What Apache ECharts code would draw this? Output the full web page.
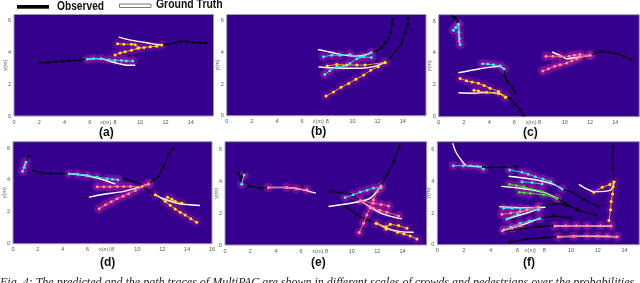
<!DOCTYPE html>
<html><head><meta charset="utf-8">
<script src="https://cdn.jsdelivr.net/npm/echarts@6/dist/echarts.min.js"></script>
<style>html,body{margin:0;padding:0;background:#fff;overflow:hidden}#c{width:640px;height:283px;filter:blur(.5px)}</style>
</head><body><div id="c"></div>
<script>
const xTicksStep = 2, yTicksStep = 2;
const panelNames = ['(a)','(b)','(c)','(d)','(e)','(f)'];
const xMax = [15.8,15.85,15.9,16,15.9,15.1];
const yMax = [6.4,6.4,6.4,6.4,6.5,6.5];

const aObserved = [
 [[2.1,3.35],[2.7,3.38],[3.3,3.42],[3.8,3.45],[4.3,3.48],[4.8,3.51],[5.3,3.54],[5.8,3.58]],
 [[15.2,4.6],[14.7,4.62],[14.2,4.65],[13.7,4.7],[13.2,4.7],[12.7,4.6],[12.2,4.55],[11.7,4.48]]];
const aTruth = [
 [[5.8,3.58],[6.5,3.62],[7,3.6],[7.6,3.45],[8.3,3.3],[9,3.2],[9.6,3.2]],
 [[11.7,4.48],[11,4.55],[10.3,4.65],[9.5,4.75],[8.9,4.85],[8.3,4.97]]];
const aCyan = [[[5.8,3.58],[6.3,3.62],[6.9,3.62],[7.5,3.55],[8,3.52],[8.5,3.5],[8.9,3.47],[9.4,3.47]]];
const aYellow = [
 [[11.7,4.48],[11.3,4.4],[10.8,4.37],[10.3,4.32],[9.8,4.27],[9.3,4.15],[8.8,4.05],[8.4,3.97],[8,3.85]],
 [[9.9,4.3],[9.6,4.5],[9.3,4.52],[8.7,4.53],[8.2,4.55]]];

const bObserved = [
 [[13.2,6.1],[13.15,5.8],[13.05,5.3],[12.9,4.9],[12.6,4.6],[12.3,4.3],[11.9,4.1],[11.5,4]],
 [[14.4,6.15],[14.4,5.8],[14.2,5.3],[13.9,4.55],[13.5,4.15],[13.05,3.7],[12.6,3.37]]];
const bTruth = [
 [[11.5,4],[11.15,3.87],[10.35,3.77],[9.3,3.83],[8.35,4],[7.25,4.19]],
 [[12.6,3.37],[11.67,3.1],[10.6,3],[9.3,3],[8.2,3.03],[7.3,3.1]]];
const bCyan = [
 [[11.5,3.68],[10.6,3.73],[9.8,3.87],[9,3.83],[8.35,3.83],[7.7,3.73]],
 [[11.5,4],[10.9,3.75],[10.35,3.6],[9.8,3.3],[9.3,3.15],[8.75,3.1],[8.2,2.85],[7.8,2.6]]];
const bYellow = [
 [[12.6,3.37],[11,3.2],[10.35,3.2],[9.55,3.2],[8.75,3.24],[8,3.15]],
 [[12.6,3.37],[12.05,3.1],[11.45,2.88],[10.9,2.57],[10.27,2.3],[9.7,2.04],[9.1,1.8],[8.5,1.5],[7.9,1.24]]];

const cObserved = [
 [[1.08,6.27],[1.3,6.2],[1.5,6],[1.56,5.8]],
 [[6.06,1.54],[5.8,1.85],[5.45,2.2],[5.26,2.53],[5.2,3]],
 [[6.72,0.1],[6.45,0.42],[6.06,0.78],[5.66,1.16],[5.3,1.22]],
 [[15.24,3.58],[14.65,3.79],[14.1,3.96],[13.5,4.04],[12.9,4.1],[12.4,4],[12,3.85]]];
const cTruth = [
 [[1.56,5.8],[1.64,4.63]],
 [[5.2,3],[4.75,3.16],[3.28,3.01],[1.56,2.76]],
 [[5.3,1.22],[4.87,1.43],[3.8,1.52],[2.75,1.47],[1.56,1.5]],
 [[12,3.85],[11.2,3.75],[10.15,3.64],[9.76,3.79],[9,4.06]]];
const cCyan = [
 [[1.56,5.8],[1.35,5.6],[1.16,5.43]],
 [[1.56,5.8],[1.6,5.3],[1.65,4.9],[1.7,4.53]],
 [[5.2,3],[4.87,3.2],[4.34,3.26],[3.9,3.3],[3.47,3.33]]];
const cYellow = [
 [[5.3,1.22],[4.74,1.58],[4.07,1.79],[3.6,1.95],[3.15,2.1],[2.65,2.17],[2.2,2.25],[1.7,2.4]],
 [[5.3,1.22],[4.74,1.46],[3.8,1.53],[3.15,1.62],[2.8,1.66]]];
const cPink = [
 [[12,3.85],[11.2,3.75],[10.95,3.62],[10.55,3.5],[10.15,3.37],[9.63,3.26],[9.18,3.16],[8.7,3.01],[8.25,2.86]],
 [[12,3.85],[11.2,3.9],[10.75,3.85],[10.34,3.79],[9.63,3.79],[9.05,3.79],[8.5,3.79]]];

const dObserved = [
 [[1.23,5.48],[1.04,5.13]],
 [[1.65,4.58],[2.37,4.41],[3.04,4.41],[3.84,4.41],[4.5,4.39]],
 [[12.9,5.97],[12.5,5.59],[12.1,4.85],[11.7,4.22],[11.3,4.01],[10.9,3.74]],
 [[8.99,4.08],[9.57,3.91],[10.24,3.74],[10.77,3.38],[11.44,3.07]]];
const dTruth = [
 [[1.04,5.13],[0.85,4.7]],
 [[4.5,4.39],[5.44,4.33],[6.77,4.12],[8.24,3.74]],
 [[10.9,3.74],[8.9,3.28],[7.3,3.1],[6.1,2.92]],
 [[11.44,3.07],[12.1,2.82],[13.17,2.54],[14.24,2.44],[15.04,2.4]]];
const dCyan = [
 [[1.04,5.13],[0.9,4.8],[0.77,4.54]],
 [[4.5,4.39],[5.2,4.35],[5.97,4.29],[6.77,4.18],[7.57,4.08],[8,4.04],[8.43,4.01]]];
const dPink = [
 [[10.9,3.74],[10.37,3.59],[9.44,3.59],[8.9,3.59],[8.37,3.59],[7.8,3.57],[7.3,3.57],[6.77,3.57]],
 [[10.9,3.74],[9.84,3.34],[9.3,3.13],[8.85,2.98],[8.37,2.82],[7.9,2.63],[7.44,2.44],[6.93,2.2]]];
const dYellow = [
 [[11.44,3.07],[12.24,2.65],[12.64,2.42],[13.04,2.18],[13.44,1.98],[13.84,1.8],[14.3,1.57],[14.77,1.34]],
 [[13.57,2.54],[13.05,2.65],[12.77,2.79],[12.43,2.92]]];

const eObserved = [
 [[1.53,4.63],[1.32,4.32],[1.24,4.1],[1.05,4.53]],
 [[1.24,4.1],[1.97,3.73],[2.76,3.58],[3.42,3.62]],
 [[13.74,6.21],[13.3,5.26],[12.76,4.42],[12.37,3.79]],
 [[8.29,3.37],[9.08,3.3],[9.87,3.16],[10.66,2.8]],
 [[9.6,2.36],[10.4,1.89],[11.18,1.58],[11.92,1.37]]];
const eTruth = [
 [[3.42,3.62],[4.87,3.62],[6.18,3.47],[7.16,3.26]],
 [[12.37,3.79],[11.97,3.37],[11.45,2.95],[10.66,2.74],[8.16,2.42]],
 [[10.66,2.8],[11.45,2.38],[12.5,1.94],[13.95,1.64]],
 [[11.92,1.37],[12.9,1.01],[13.8,0.84],[14.87,0.8]]];
const eCyan = [
 [[1.5,4.4],[1.32,3.83]],
 [[12.3,3.6],[11.7,3.58],[11.2,3.45],[10.66,3.33],[10.1,3.16],[9.47,2.99]]];
const ePink = [
 [[3.42,3.62],[4.87,3.62],[5.6,3.55],[6.45,3.47]],
 [[12.3,3.7],[12,3.37],[11.7,2.84],[11.45,2.35],[11.18,1.89],[10.92,1.37],[10.58,0.78]],
 [[10.66,2.8],[11.7,2.63],[12.3,2.55],[12.9,2.46]],
 [[10.66,2.8],[11.7,2.32],[12.2,2.18],[12.76,2.06],[13.68,1.83]]];
const eYellow = [
 [[11.92,1.37],[12.7,1.15],[13.03,1.3],[13.68,1.22],[14.34,1.05]],
 [[11.92,1.37],[12.7,1.01],[13.6,0.8],[14.1,0.7],[14.6,0.57],[15.13,0.38]]];

const fObserved = [
 [[3.45,4.88],[4.08,4.88],[4.95,4.88],[5.95,4.93]],
 [[9.33,3.52],[10.08,3.31],[10.95,2.86],[12.03,2.4]],
 [[8.95,2.93],[9.58,2.61],[10.45,2.19],[11.83,1.87]],
 [[7.58,2.4],[8.7,2.61],[9.7,2.5],[10.45,2.25]],
 [[5.08,0.86],[6.2,0.99],[7.45,1.14],[8.7,1.2]],
 [[7.65,1.66],[8.7,1.81],[9.95,1.71]],
 [[5.4,0.15],[6.7,0.36],[7.95,0.44],[9.03,0.5]],
 [[13.13,6.19],[13.15,4.82],[13.22,3.98]]];
const fTruth = [
 [[3.33,4.93],[2.2,4.99],[1.7,5.45],[1.38,5.87],[1.15,6.4]],
 [[9.33,3.52],[8.7,3.81],[7.45,4.08],[5.33,4.32]],
 [[8.95,2.93],[7.95,3.3],[6.2,3.56],[4.78,3.68]],
 [[8.08,2.36],[6.45,2.34],[4.63,2.4]],
 [[7.58,2.25],[6.45,1.94],[5.2,1.62]],
 [[7.65,1.66],[6.2,1.2],[4.78,0.86]],
 [[13,1.18],[11.2,1.2],[8.78,1.18]],
 [[9.03,0.5],[11,0.53],[13.45,0.5]],
 [[13.22,3.98],[12.95,3.45],[11.7,3.35],[11.08,3.56],[10.58,3.81]]];
const fCyan = [
 [[3.45,4.78],[3,4.95],[2.5,4.99],[1.95,4.99],[1.2,4.99]],
 [[9.33,3.52],[8.45,3.98],[7.9,4.15],[7.33,4.29],[6.8,4.45],[6.33,4.57],[5.4,4.72]],
 [[7.83,3.83],[7.08,3.92],[6.33,3.98]],
 [[7.58,2.35],[6.2,2.3],[5.6,2.3],[4.95,2.3]],
 [[7.58,2.2],[6.7,2.2],[6,1.95],[5.2,1.62]],
 [[7.65,1.66],[6.9,1.5],[6.2,1.35],[5.5,1.12],[4.95,0.93]]];
const fGreen = [
 [[8.95,2.93],[7.7,3.39],[7.05,3.52],[6.45,3.66],[5.9,3.73],[5.4,3.81]],
 [[8.95,2.93],[7.95,3.15],[6.95,3.24],[6.5,3.28],[6.13,3.31]]];
const fPink = [
 [[7.58,2.4],[6.7,2.2],[6.2,2.1],[5.5,2],[4.83,1.92]],
 [[13,1.18],[12.2,1.2],[11.2,1.2],[10.4,1.2],[9.6,1.2],[8.78,1.18]],
 [[6.2,1.2],[5.6,1.05],[5,0.95]],
 [[13.45,0.5],[12.7,0.55],[12,0.55],[11.2,0.55],[10.2,0.53],[9.03,0.5]]];
const fYellow = [
 [[13.22,3.98],[12.9,3.8],[12.33,3.62],[11.7,3.31]],
 [[13.15,3.66],[13.1,3.2],[13,2.72],[12.95,2.2],[12.83,1.52]]];

const panelData = [
 {observed:aObserved,truth:aTruth,cyan:aCyan,yellow:aYellow},
 {observed:bObserved,truth:bTruth,cyan:bCyan,yellow:bYellow},
 {observed:cObserved,truth:cTruth,cyan:cCyan,yellow:cYellow,pink:cPink},
 {observed:dObserved,truth:dTruth,cyan:dCyan,yellow:dYellow,pink:dPink},
 {observed:eObserved,truth:eTruth,cyan:eCyan,yellow:eYellow,pink:ePink},
 {observed:fObserved,truth:fTruth,cyan:fCyan,yellow:fYellow,pink:fPink,green:fGreen}
];

const boxes = [
 {l:14,t:14.5,w:199.5,h:101.5,lx:106,ly:128},
 {l:226.7,t:14.5,w:199.3,h:101.2,lx:318,ly:127},
 {l:438.7,t:14.7,w:200.6,h:102,lx:530,ly:128},
 {l:12,t:141.7,w:200,h:102,lx:107,ly:258},
 {l:225,t:141.7,w:201.7,h:103.3,lx:318,ly:258},
 {l:437.3,t:141.7,w:202,h:103,lx:530,ly:258}
];
const predStyle = {
 cyan:{line:'#3fc9c9',dot:'#2ff0f0',glow:'#9a10a8',alpha:0.6},
 yellow:{line:'#d9a028',dot:'#fff000',glow:'#8a0ca0',alpha:0.45},
 pink:{line:'#e8607c',dot:'#ff8c9c',glow:'#a0149c',alpha:0.6},
 green:{line:'#55c855',dot:'#22ee22',glow:'#9a10a0',alpha:0.55}
};
const grid=[],xAxis=[],yAxis=[],series=[],title=[];
panelData.forEach((p,i)=>{
 const b=boxes[i];
 grid.push({left:b.l,top:b.t,width:b.w,height:b.h,show:true,backgroundColor:'#36008e',borderColor:'#9c9ab0',borderWidth:1,containLabel:false});
 const ax={color:'#555',fontSize:5.5,margin:3};
 xAxis.push({gridIndex:i,type:'value',min:0,max:xMax[i],interval:xTicksStep,name:'x(m)',nameLocation:'middle',nameGap:6,nameMoveOverlap:false,nameTextStyle:{color:'#666',fontSize:5.5,padding:[0,16,0,0],verticalAlign:'middle'},
  axisLine:{show:false},axisTick:{show:false},splitLine:{show:false},axisLabel:{...ax,showMaxLabel:i===3,showMinLabel:true}});
 yAxis.push({gridIndex:i,type:'value',min:0,max:yMax[i],interval:yTicksStep,name:'y(m)',nameLocation:'middle',nameGap:6,nameMoveOverlap:false,nameRotate:90,nameTextStyle:{color:'#666',fontSize:5.5},
  axisLine:{show:false},axisTick:{show:false},splitLine:{show:false},axisLabel:{...ax,showMaxLabel:false}});
 title.push({text:panelNames[i],left:b.lx-7,top:b.ly-1,textAlign:'left',padding:0,textStyle:{fontFamily:'Liberation Sans',fontWeight:'bold',fontSize:12,color:'#111'}});
 const base={xAxisIndex:i,yAxisIndex:i,animation:false,silent:true};
 Object.keys(predStyle).forEach(k=>{(p[k]||[]).forEach(d=>{
   series.push({...base,type:'scatter',data:d,symbolSize:9.5,itemStyle:{color:predStyle[k].glow,opacity:predStyle[k].alpha},z:2});
 });});
 p.observed.forEach(d=>series.push({...base,type:'line',data:d,z:3,symbol:'rect',symbolSize:2.5,lineStyle:{color:'#000',width:1},itemStyle:{color:'#000'}}));
 p.truth.forEach(d=>series.push({...base,type:'line',data:d,z:4,smooth:0.3,symbol:'none',lineStyle:{color:'#fff',width:1.4}}));
 Object.keys(predStyle).forEach(k=>{(p[k]||[]).forEach(d=>{
   series.push({...base,type:'line',data:d,z:5,symbol:'circle',symbolSize:3,lineStyle:{color:predStyle[k].line,width:1},itemStyle:{color:predStyle[k].dot}});
 });});
});
const graphic=[
 {type:'rect',shape:{x:17,y:5,width:32,height:3.7},style:{fill:'#000'}},
 {type:'text',x:57,y:1,scaleX:0.85,style:{x:0,y:0,text:'Observed',fill:'#111',font:'bold 12px "Liberation Sans"'}},
 {type:'rect',shape:{x:119.5,y:4,width:31.5,height:3.5},style:{fill:'#fff',stroke:'#777',lineWidth:1}},
 {type:'text',x:156,y:-1,scaleX:0.87,style:{x:0,y:0,text:'Ground Truth',fill:'#111',font:'bold 12px "Liberation Sans"'}},
 {type:'text',style:{x:0,y:277,text:'Fig. 4: The predicted and the path traces of MultiPAC are shown in different scales of crowds and pedestrians over the probabilities',fill:'#222',font:'italic 12px "Liberation Serif"'}}
];
const chart=echarts.init(document.getElementById('c'),null,{renderer:'canvas',width:640,height:283});
chart.setOption({animation:false,backgroundColor:'#fff',title,grid,xAxis,yAxis,series,graphic});
</script></body></html>
